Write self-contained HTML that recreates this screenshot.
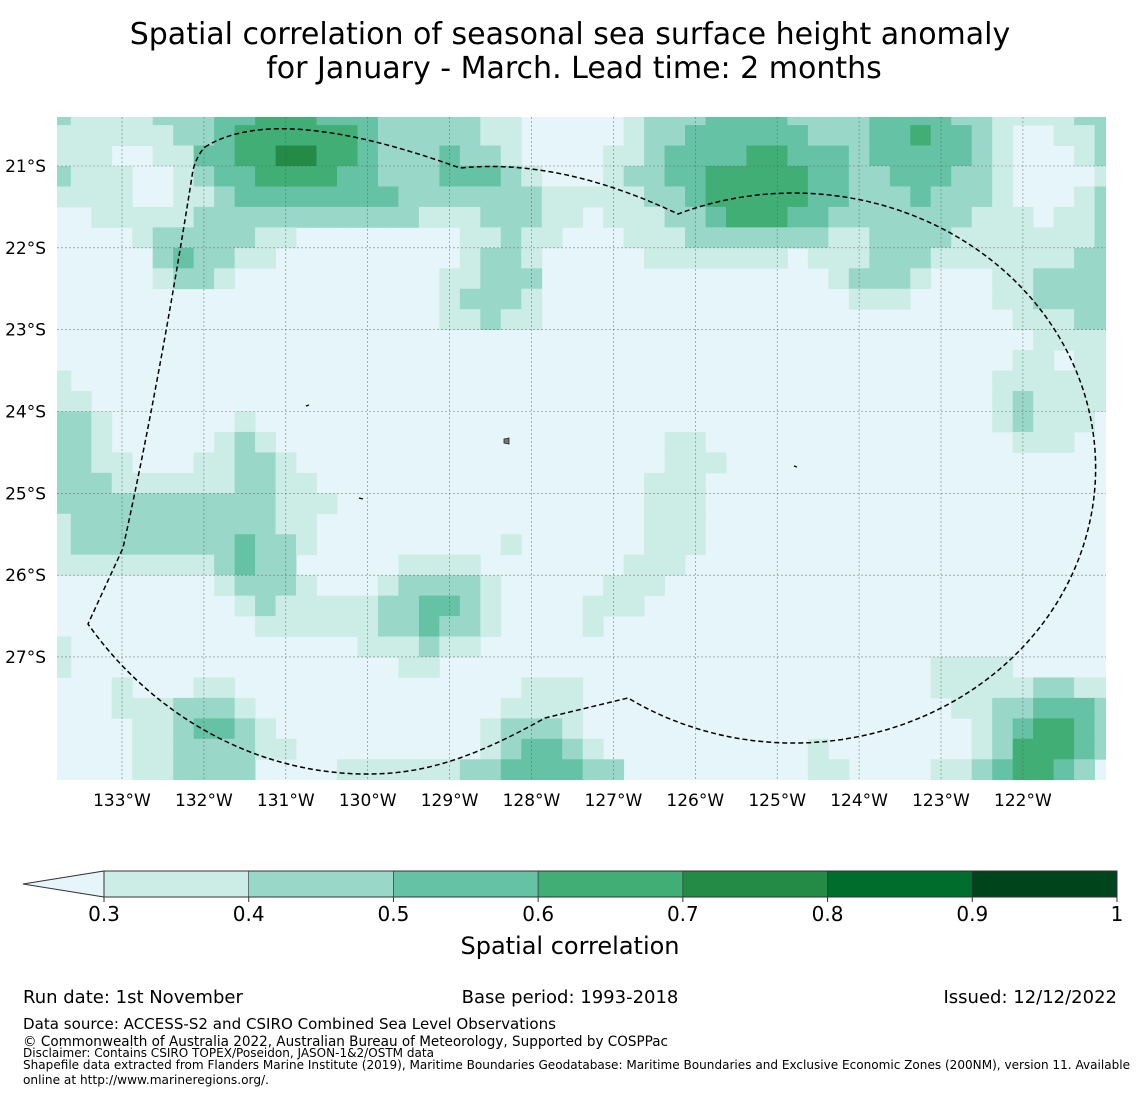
<!DOCTYPE html>
<html><head><meta charset="utf-8">
<style>
html,body{margin:0;padding:0;background:#fff;}
svg{display:block;font-family:"DejaVu Sans","Liberation Sans",sans-serif;}
</style></head>
<body>
<svg id="chart" width="1140" height="1095" viewBox="0 0 1140 1095" xmlns="http://www.w3.org/2000/svg">
  <rect width="1140" height="1095" fill="#fff"/>
  <text x="570" y="44" text-anchor="middle" font-size="30">Spatial correlation of seasonal sea surface height anomaly</text>
  <text x="574" y="78" text-anchor="middle" font-size="30">for January - March. Lead time: 2 months</text>
  <defs><clipPath id="mapclip"><rect x="57" y="117" width="1049" height="663"/></clipPath></defs>
  <g id="map" clip-path="url(#mapclip)">
    <rect x="57" y="117" width="1049" height="663" fill="#e5f5f9"/>
    <g id="cells"></g>
    <g id="grid"></g>
    <path fill="none" stroke="#000" stroke-width="1.5" stroke-dasharray="5,3"
      d="M205,147 Q277,102 460,168 Q560,158 678,214 A302 275 0 1 1 628,698 L545,718 C470,760 420,775 362,774 C250,772 150,712 88,624 L123,548 Q160,380 193,170 Q197,155 205,147 Z"/>
    <path d="M504,439 L509,438 L509,444 L504,443 Z" fill="#777" stroke="#222" stroke-width="0.8"/>
    <path d="M306,406 L309,405" stroke="#000" stroke-width="1.2"/>
    <path d="M359,498 L363,499" stroke="#000" stroke-width="1.2"/>
    <path d="M794,466 L797,467" stroke="#000" stroke-width="1.2"/>
  </g>
  <g id="axes"></g>
  <g id="colorbar"></g>
  <text x="570" y="954" text-anchor="middle" font-size="24">Spatial correlation</text>
  <text x="23" y="1003" font-size="18">Run date: 1st November</text>
  <text x="570" y="1003" text-anchor="middle" font-size="18">Base period: 1993-2018</text>
  <text x="1117" y="1003" text-anchor="end" font-size="18">Issued: 12/12/2022</text>
  <text x="23" y="1029" font-size="15" textLength="533" lengthAdjust="spacingAndGlyphs">Data source: ACCESS-S2 and CSIRO Combined Sea Level Observations</text>
  <text x="23" y="1046" font-size="14" textLength="645" lengthAdjust="spacingAndGlyphs">© Commonwealth of Australia 2022, Australian Bureau of Meteorology, Supported by COSPPac</text>
  <text x="23" y="1057" font-size="12" textLength="411" lengthAdjust="spacingAndGlyphs">Disclaimer: Contains CSIRO TOPEX/Poseidon, JASON-1&amp;2/OSTM data</text>
  <text x="23" y="1069" font-size="12" textLength="1107" lengthAdjust="spacingAndGlyphs">Shapefile data extracted from Flanders Marine Institute (2019), Maritime Boundaries Geodatabase: Maritime Boundaries and Exclusive Economic Zones (200NM), version 11. Available</text>
  <text x="23" y="1084" font-size="12" textLength="246" lengthAdjust="spacingAndGlyphs">online at http://www.marineregions.org/.</text>
</svg>
<script>
// ---- data ----
const levelValues = [0.25, 0.35, 0.45, 0.55, 0.65, 0.75, 0.85, 0.95]; // representative correlation per class digit
const lonStart = -133.875; // west edge of first column
const latStart = -20.25;   // north edge of first row
const cellDeg = 0.25;
const z17 = "00000000000000000";
const z18 = "000000000000000000";
const gridRows = [
"21111222334443332"+"22221100000122233"+"332222333322111122",
"11111122344444432"+"22221100000122333"+"333222334332100112",
"11100113344554432"+"22322100001123333"+"443332333332100012",
"21110012334444332"+"22333210001223344"+"444332233322100001",
"11110011233333333"+"22222221111122344"+"444332223222100012",
"00111112222222222"+"21112221101112234"+"443322222221110112",
"00001222221100000"+"00011211000111222"+"222211222211111112",
"00000232211000000"+"00012210000011111"+"110111222111111122",
"00000122100000000"+"00112220000000000"+"000012221000112222",
"00000000000000000"+"00122210000000000"+"000001110000112222",
"00000000000000000"+"00112110000000000"+"000000000000011122",
z17+z17+"000000000000001111",
z17+z17+"000000000000011011",
"10000000000000000"+z17+"000000000000111111",
"11000000000000000"+z17+"000000000000121111",
"22100000010000000"+z17+"000000000000121110",
"22100000121000000"+"00000000000001100"+"000000000000011100",
"22110001122100000"+"00000000000001110"+z18,
"22211111122110000"+"00000000000011100"+z18,
"22222222222111000"+"00000000000011100"+z18,
"12222222222110000"+"00000000000011100"+z18,
"12222222232210000"+"00000100000011100"+z18,
"11111111232200000"+"11110000000111000"+z18,
"00000000122210001"+"22221000001110000"+z18,
"00000000012111112"+"23321000011100000"+z18,
"00000000001111112"+"23221000010000000"+z18,
"10000000000000011"+"12110000000000000"+z18,
"10000000000000000"+"11000000000000000"+"000000000111100000",
"00010001100000000"+"00000011100000000"+"000000000111112211",
"00011122210000000"+"00000111100000000"+"000000000011223332",
"00001123321000000"+"00001222100000000"+"000000000001234432",
"00001122221100000"+"00001233210000000"+"000100000001244432",
"00001122220000111"+"11122333322000000"+"000110000112344320"
];
const colorbarBounds = [0.3, 0.4, 0.5, 0.6, 0.7, 0.8, 0.9, 1.0];
const colorbarColors = ["#ccece6","#99d8c9","#66c2a4","#41ae76","#238b45","#006d2c","#00441b"];
const colorbarTickLabels = ["0.3","0.4","0.5","0.6","0.7","0.8","0.9","1"];
const lonTicks = [-133,-132,-131,-130,-129,-128,-127,-126,-125,-124,-123,-122];
const latTicks = [-21,-22,-23,-24,-25,-26,-27];

// ---- axis functions ----
const NS = "http://www.w3.org/2000/svg";
const xOfLon = lon => 122 + (lon + 133) * 81.9;
const yOfLat = lat => 166 + (-21 - lat) * 81.83;
const cbX = v => 104 + (v - 0.3) / 0.7 * 1013;
function colorFor(v){
  if (v < colorbarBounds[0]) return null;
  for (let i = 0; i < colorbarColors.length; i++) if (v < colorbarBounds[i+1]) return colorbarColors[i];
  return colorbarColors[colorbarColors.length-1];
}
function mk(tag, attrs, parent){
  const el = document.createElementNS(NS, tag);
  for (const k in attrs) el.setAttribute(k, attrs[k]);
  parent.appendChild(el);
  return el;
}

// cells
const cells = document.getElementById('cells');
gridRows.forEach((row, r) => {
  for (let c = 0; c < row.length; c++) {
    const v = levelValues[+row[c]];
    const col = colorFor(v);
    if (!col) continue;
    const lon0 = lonStart + c * cellDeg, lat0 = latStart - r * cellDeg;
    const x0 = xOfLon(lon0), x1 = xOfLon(lon0 + cellDeg);
    const y0 = yOfLat(lat0), y1 = yOfLat(lat0 - cellDeg);
    const el = mk('rect', {x: x0.toFixed(2), y: y0.toFixed(2), width: (x1-x0+0.4).toFixed(2), height: (y1-y0+0.4).toFixed(2), fill: col}, cells);
    
    
  }
});

// graticule + labels
const grid = document.getElementById('grid');
const axes = document.getElementById('axes');
lonTicks.forEach(lon => {
  const x = xOfLon(lon);
  const ln = mk('line', {x1: x, x2: x, y1: 117, y2: 780, stroke: '#555', 'stroke-width': 0.6, 'stroke-dasharray': '2,2', opacity: 0.7}, grid);
  
  
  const t = mk('text', {x: x, y: 806, 'text-anchor': 'middle', 'font-size': 17}, axes);
  t.textContent = Math.abs(lon) + '°W';
  
  
});
latTicks.forEach(lat => {
  const y = yOfLat(lat);
  const ln = mk('line', {x1: 57, x2: 1106, y1: y, y2: y, stroke: '#555', 'stroke-width': 0.6, 'stroke-dasharray': '2,2', opacity: 0.7}, grid);
  
  
  const t = mk('text', {x: 46, y: y + 6, 'text-anchor': 'end', 'font-size': 17}, axes);
  t.textContent = Math.abs(lat) + '°S';
  
  
});

// colorbar
const cb = document.getElementById('colorbar');
const tri = mk('polygon', {points: '23,884 ' + cbX(0.3) + ',871 ' + cbX(0.3) + ',897', fill: '#e5f5f9', stroke: '#333', 'stroke-width': 1}, cb);


colorbarColors.forEach((col, i) => {
  const x0 = cbX(colorbarBounds[i]), x1 = cbX(colorbarBounds[i+1]);
  const r = mk('rect', {x: x0, y: 871, width: x1 - x0, height: 26, fill: col, stroke: '#333', 'stroke-width': 0.6}, cb);
  
  
});
const border = mk('rect', {x: cbX(0.3), y: 871, width: cbX(1) - cbX(0.3), height: 26, fill: 'none', stroke: '#333', 'stroke-width': 1}, cb);


colorbarBounds.forEach((b, i) => {
  const x = cbX(b);
  const tk = mk('line', {x1: x, x2: x, y1: 897, y2: 902, stroke: '#333', 'stroke-width': 1}, cb);
  
  
  const t = mk('text', {x: x, y: 921, 'text-anchor': 'middle', 'font-size': 20}, cb);
  t.textContent = colorbarTickLabels[i];
  
  
});
</script>
</body></html>
